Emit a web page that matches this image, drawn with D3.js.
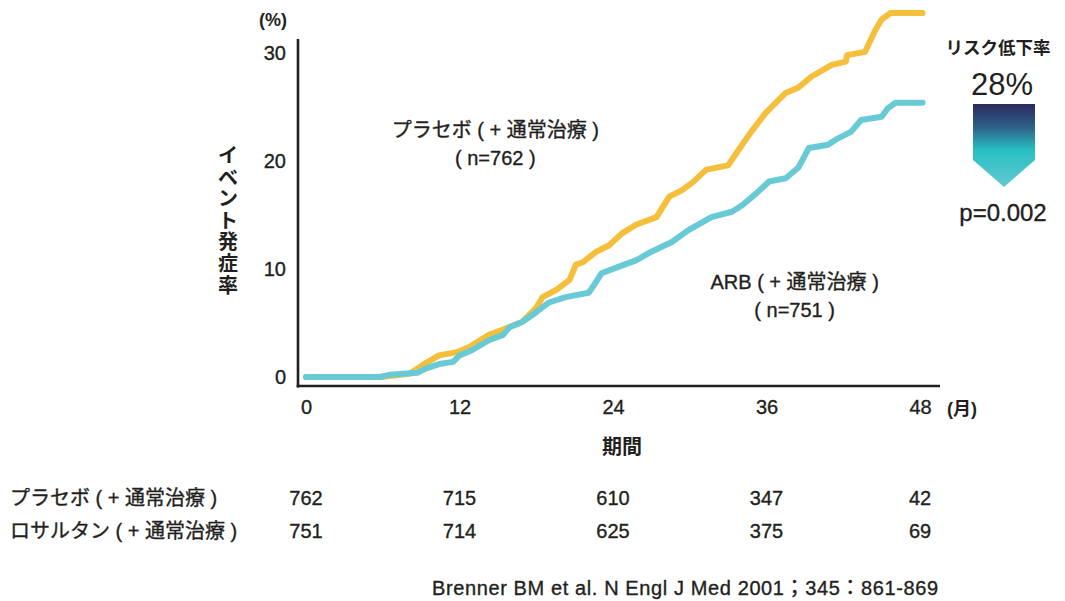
<!DOCTYPE html>
<html><head><meta charset="utf-8">
<script src="https://cdn.jsdelivr.net/npm/d3@7"></script>
<style>
html,body{margin:0;padding:0;background:#fff;}
svg text{font-family:"Liberation Sans",Arial,"Noto Sans CJK JP",sans-serif;fill:#231f20;}
.jp{font-family:"Liberation Sans","Noto Sans CJK JP",sans-serif;}
.med{stroke:#231f20;stroke-width:0.35px;}
</style></head>
<body><svg id="c" width="1065" height="601"></svg>
<script>
// ---- data ----
const xTicks = [0, 12, 24, 36, 48];
const yTicks = [0, 10, 20, 30];
const placeboMonths = [0,5.8,6.5,8.1,9.1,10.4,11.8,12.8,14.3,15.4,16.9,18.0,18.5,19.6,20.6,21.1,21.6,22.7,23.7,24.7,25.8,27.4,28.4,29.4,30.2,31.3,33.0,33.8,34.8,35.9,37.5,38.5,39.5,41.1,42.2,42.3,43.7,44.5,45.0,45.7,48.2];
const placeboRates  = [0,0,0.1,0.3,1.1,2.0,2.3,2.8,3.9,4.4,5.1,6.4,7.4,8.1,9.0,10.4,10.6,11.6,12.2,13.3,14.1,14.8,16.7,17.3,18.0,19.2,19.6,21.0,22.7,24.4,26.3,26.8,27.8,28.9,29.2,29.8,30.1,32.1,33.1,33.7,33.7];
const arbMonths = [0,5.8,6.5,8.7,9.4,10.4,11.5,12.0,13.0,14.3,15.4,15.9,16.9,18.0,19.0,20.3,22.1,22.4,23.1,24.2,25.8,27.0,28.6,29.9,31.7,33.3,34.1,35.2,36.2,37.5,38.5,39.3,40.8,41.6,42.6,43.4,45.0,45.5,46.1,48.2];
const arbRates  = [0,0,0.2,0.4,0.8,1.2,1.4,2.0,2.5,3.4,3.9,4.6,5.1,6.0,6.9,7.4,7.8,8.3,9.6,10.1,10.8,11.6,12.5,13.6,14.8,15.3,15.9,17.0,18.1,18.4,19.4,21.2,21.5,22.1,22.7,23.8,24.1,24.9,25.4,25.4];
const riskLabels = ["プラセボ ( + 通常治療 )", "ロサルタン ( + 通常治療 )"];
const placeboAtRisk = [762, 715, 610, 347, 42];
const arbAtRisk = [751, 714, 625, 375, 69];
const placeboName = ["プラセボ ( + 通常治療 )", "( n=762 )"];
const arbName = ["ARB ( + 通常治療 )", "( n=751 )"];
const yTitle = "イベント発症率";
const xTitle = "期間";
const reductionTitle = "リスク低下率";
const reductionValue = "28%";
const pValue = "p=0.002";
const citation = "Brenner BM et al. N Engl J Med 2001；345：861-869";

// ---- chart ----
const svg = d3.select("#c");
const x = d3.scaleLinear().domain([0, 48]).range([306, 920]);
const y = d3.scaleLinear().domain([0, 30]).range([377, 53]);
const colPlacebo = "#F5BE3B", colArb = "#67CAD4", ink = "#231f20";
const FS = 20;

const axisY = y(0) + 9, axisX = x(0) - 8;
svg.append("line").attr("x1", axisX).attr("x2", axisX).attr("y1", y(30) - 14).attr("y2", axisY + 1.5)
  .attr("stroke", ink).attr("stroke-width", 2.6);
svg.append("line").attr("x1", axisX - 1.3).attr("x2", x(48) + 20).attr("y1", axisY).attr("y2", axisY)
  .attr("stroke", ink).attr("stroke-width", 2.6);

const gx = svg.append("g").attr("transform", `translate(0,${axisY})`)
  .call(d3.axisBottom(x).tickValues(xTicks).tickSize(0).tickPadding(14));
gx.select(".domain").remove();
gx.selectAll("text").attr("font-size", FS).attr("class", "med").attr("font-family", '"Liberation Sans",Arial,sans-serif').attr("fill", ink);
const gy = svg.append("g").attr("transform", `translate(${axisX},0)`)
  .call(d3.axisLeft(y).tickValues(yTicks).tickSize(0).tickPadding(12));
gy.select(".domain").remove();
gy.selectAll("text").attr("font-size", FS).attr("class", "med").attr("font-family", '"Liberation Sans",Arial,sans-serif').attr("fill", ink);

svg.append("text").attr("x", axisX - 25).attr("y", 26).attr("text-anchor", "middle")
  .attr("font-size", 18).attr("font-weight", "bold").text("(%)");
svg.append("text").attr("class", "jp").attr("x", x(48) + 27).attr("y", axisY + 29).attr("text-anchor", "start")
  .attr("font-size", 18).attr("font-weight", "bold").text("(月)");

const yChars = Array.from(yTitle);
svg.append("g").selectAll("text").data(yChars).join("text")
  .attr("class", "jp")
  .attr("x", 228).attr("y", (d, i) => 163 + i * 21.6)
  .attr("text-anchor", "middle").attr("font-size", 20).attr("font-weight", "bold")
  .text(d => d);
svg.append("text").attr("class", "jp").attr("x", x(24) + 9).attr("y", 454).attr("text-anchor", "middle")
  .attr("font-size", 20).attr("font-weight", "bold").text(xTitle);

const line = d3.line().x(d => x(d[0])).y(d => y(d[1])).curve(d3.curveLinear);
const placeboData = placeboMonths.map((m, i) => [m, placeboRates[i]]);
const arbData = arbMonths.map((m, i) => [m, arbRates[i]]);
svg.append("path").datum(placeboData).attr("d", line).attr("fill", "none")
  .attr("stroke", colPlacebo).attr("stroke-width", 6).attr("stroke-linecap", "round").attr("stroke-linejoin", "round");
svg.append("path").datum(arbData).attr("d", line).attr("fill", "none")
  .attr("stroke", colArb).attr("stroke-width", 6).attr("stroke-linecap", "round").attr("stroke-linejoin", "round");

svg.append("g").selectAll("text").data(placeboName).join("text").attr("class", "jp med")
  .attr("x", x(14.8)).attr("y", (d, i) => 137 + i * 28).attr("text-anchor", "middle")
  .attr("font-size", FS).text(d => d);
svg.append("g").selectAll("text").data(arbName).join("text").attr("class", "jp med")
  .attr("x", x(38.2)).attr("y", (d, i) => 289 + i * 28).attr("text-anchor", "middle")
  .attr("font-size", FS).text(d => d);

const defs = svg.append("defs");
const grad = defs.append("linearGradient").attr("id", "g1").attr("x1", 0).attr("x2", 0).attr("y1", 0).attr("y2", 1);
grad.append("stop").attr("offset", "0%").attr("stop-color", "#2d2a5f");
grad.append("stop").attr("offset", "28%").attr("stop-color", "#2e6088");
grad.append("stop").attr("offset", "55%").attr("stop-color", "#27bfc3");
grad.append("stop").attr("offset", "100%").attr("stop-color", "#63c9d1");
const ax = 973, aw = 62, at = 104, ab = 160, tip = 187;
svg.append("path").attr("d", `M${ax},${at}H${ax + aw}V${ab}L${ax + aw / 2},${tip}L${ax},${ab}Z`).attr("fill", "url(#g1)");
svg.append("text").attr("class", "jp").attr("x", 998).attr("y", 54).attr("text-anchor", "middle")
  .attr("font-size", 17.5).attr("font-weight", "bold").text(reductionTitle);
svg.append("text").attr("x", 1002).attr("y", 95).attr("text-anchor", "middle")
  .attr("font-size", 31).text(reductionValue);
svg.append("text").attr("class", "med").attr("x", 1003).attr("y", 221).attr("text-anchor", "middle")
  .attr("font-size", 24).text(pValue);

const rows = [placeboAtRisk, arbAtRisk];
rows.forEach((r, ri) => {
  const yy = 505 + ri * 33;
  svg.append("text").attr("class", "jp med").attr("x", 10).attr("y", yy)
    .attr("font-size", FS).text(riskLabels[ri]);
  svg.append("g").selectAll("text").data(r).join("text").attr("class", "med")
    .attr("x", (d, i) => x(xTicks[i])).attr("y", yy).attr("text-anchor", "middle")
    .attr("font-size", FS).text(d => d);
});

svg.append("text").attr("class", "med").attr("x", 432).attr("y", 595).attr("text-anchor", "start")
  .attr("font-size", 20).attr("textLength", 506).attr("lengthAdjust", "spacing").text(citation);
</script></body></html>
